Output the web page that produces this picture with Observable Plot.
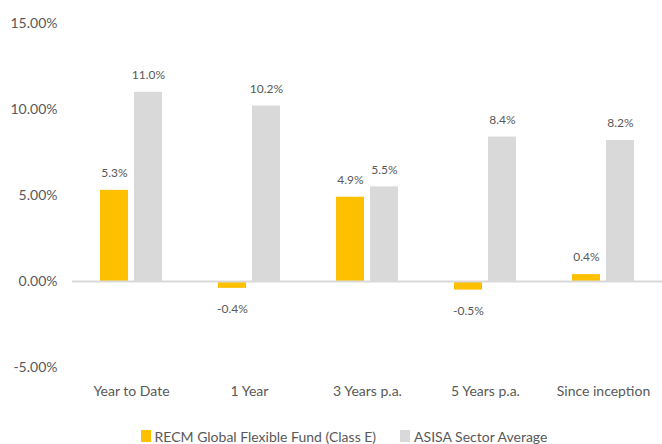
<!DOCTYPE html>
<html><head><meta charset="utf-8">
<script src="https://cdn.jsdelivr.net/npm/d3@7"></script>
<script src="https://cdn.jsdelivr.net/npm/@observablehq/plot@0.6"></script>
<style>
body{margin:0;background:#fff;font-family:Lato,"Open Sans",sans-serif;}
#legend{display:flex;justify-content:center;align-items:center;height:24px;font-size:14px;color:#595959;padding-left:26px;margin-top:4px;}
.sw{display:inline-block;width:10px;height:12px;margin-right:4px;}
.item{display:flex;align-items:center;margin:0 12px;}
</style></head>
<body><div id="chart"></div>
<div id="legend"></div>
<script>
const categories = ["Year to Date", "1 Year", "3 Years p.a.", "5 Years p.a.", "Since inception"];
const seriesNames = ["RECM Global Flexible Fund (Class E)", "ASISA Sector Average"];
const recm = [5.3, -0.4, 4.9, -0.5, 0.4];
const asisa = [11.0, 10.2, 5.5, 8.4, 8.2];
const yTicks = [-5, 0, 5, 10, 15];
const colors = ["#ffc000", "#d9d9d9"];

const data = [];
categories.forEach((c, i) => {
  data.push({cat: c, series: seriesNames[0], value: recm[i]});
  data.push({cat: c, series: seriesNames[1], value: asisa[i]});
});

const chart = Plot.plot({
  width: 662, height: 420,
  marginLeft: 72, marginRight: 0, marginTop: 23, marginBottom: 53,
  style: {fontFamily: "Lato, 'Open Sans', sans-serif", color: "#595959", background: "#fff"},
  fx: {domain: categories, padding: 0, label: null, axis: null},
  x: {domain: seriesNames, paddingInner: 0.18, paddingOuter: 0.82, axis: null},
  y: {domain: [-5, 15], label: null},
  color: {domain: seriesNames, range: colors},
  marks: [
    Plot.barY(data, {fx: "cat", x: "series", y: "value", fill: "series"}),
    Plot.ruleY([0], {stroke: "#d9d9d9", strokeWidth: 2}),
    Plot.text(data.filter(d => d.value >= 0), {fx: "cat", x: "series", y: "value", text: d => d.value.toFixed(1) + "%", dy: -17, fontSize: 12, fill: "#595959"}),
    Plot.text(data.filter(d => d.value < 0), {fx: "cat", x: "series", y: "value", text: d => d.value.toFixed(1) + "%", dy: 21, fontSize: 12, fill: "#595959"}),
    Plot.axisY({ticks: yTicks, tickFormat: d => d.toFixed(2) + "%", tickSize: 0, tickPadding: 15, fontSize: 14, label: null}),
    Plot.axisFx({anchor: "bottom", tickSize: 0, tickPadding: 19, fontSize: 14, label: null})
  ]
});
document.getElementById("chart").appendChild(chart);

const leg = document.getElementById("legend");
seriesNames.forEach((n, i) => {
  const it = document.createElement("span");
  it.className = "item";
  const sw = document.createElement("span");
  sw.className = "sw"; sw.style.background = colors[i];
  it.appendChild(sw);
  it.appendChild(document.createTextNode(n));
  leg.appendChild(it);
});
</script></body></html>
